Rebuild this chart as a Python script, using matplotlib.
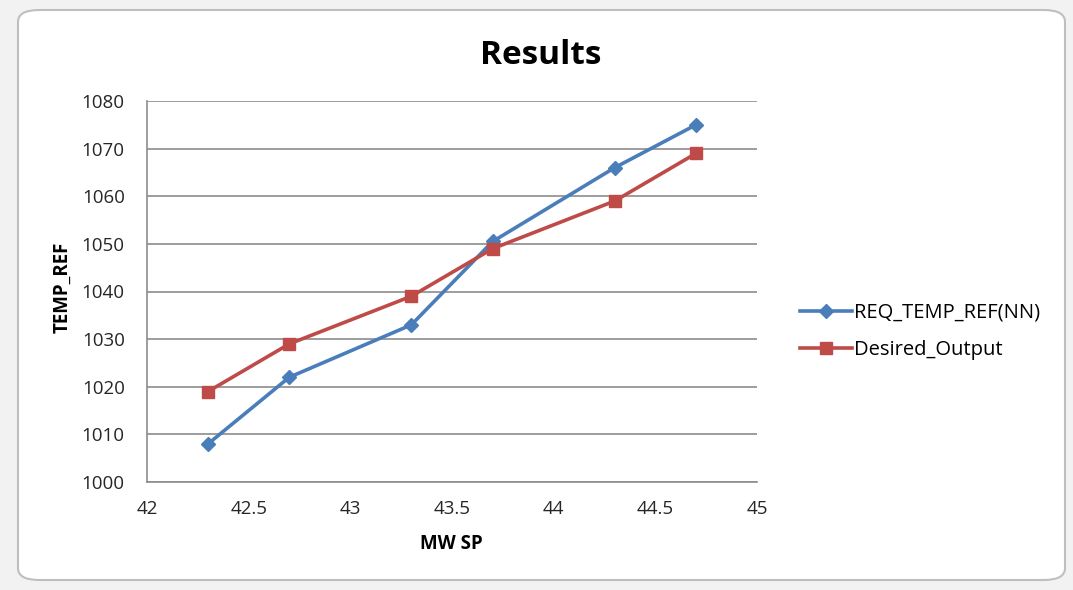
"""Line chart of required vs desired temperature reference over MW setpoint."""

import matplotlib

matplotlib.use("Agg")
import matplotlib.pyplot as plt
from matplotlib.patches import FancyBboxPatch

mw_sp = [42.3, 42.7, 43.3, 43.7, 44.3, 44.7]
req_temp_ref = [1008, 1022, 1033, 1050.5, 1066, 1075]
desired_output = [1019, 1029, 1039, 1049, 1059, 1069]

x_ticks = [42, 42.5, 43, 43.5, 44, 44.5, 45]
x_tick_labels = ["42", "42.5", "43", "43.5", "44", "44.5", "45"]
y_ticks = [1000, 1010, 1020, 1030, 1040, 1050, 1060, 1070, 1080]

plt.rcParams["font.family"] = ["Open Sans", "DejaVu Sans"]

fig = plt.figure(figsize=(10.73, 5.90), dpi=100)
fig.patch.set_facecolor("#f2f2f2")

# rounded chart frame, kept behind the axes
frame = FancyBboxPatch(
    (18 / 1073, 10 / 590), 1047 / 1073, 570 / 590,
    boxstyle="round,pad=0,rounding_size=0.02",
    transform=fig.transFigure, facecolor="white", edgecolor="#bfbfbf",
    linewidth=1.5, zorder=-5,
)
fig.add_artist(frame)

ax = fig.add_axes([147 / 1073, 1 - 482 / 590, 610 / 1073, 381 / 590])
ax.set_facecolor("none")
ax.set_zorder(2)

ax.plot(mw_sp, req_temp_ref, color="#4a7ebb", linewidth=2.6, marker="D",
        markersize=7.5, label="REQ_TEMP_REF(NN)", zorder=3)
ax.plot(mw_sp, desired_output, color="#be4b48", linewidth=2.6, marker="s",
        markersize=9, label="Desired_Output", zorder=3)

ax.set_xlim(42, 45)
ax.set_ylim(1000, 1080)
ax.set_xticks(x_ticks)
ax.set_xticklabels(x_tick_labels)
ax.set_yticks(y_ticks)
ax.tick_params(axis="both", length=0, labelsize=13.5, colors="#262626")
ax.tick_params(axis="x", pad=13)
ax.tick_params(axis="y", pad=16)

ax.grid(axis="y", color="#8c8c8c", linewidth=1.2, zorder=1)
for side in ("top", "right"):
    ax.spines[side].set_visible(False)
for side in ("left", "bottom"):
    ax.spines[side].set_color("#8c8c8c")
    ax.spines[side].set_linewidth(1.2)

fig.text(541 / 1073, 1 - 55 / 590, "Results", ha="center", va="center",
         fontsize=24, fontweight="bold", color="#000000")
fig.text(62 / 1073, 1 - 287 / 590, "TEMP_REF", ha="center", va="center",
         rotation=90, fontsize=13.5, fontweight="bold", color="#000000")
fig.text(451 / 1073, 1 - 544 / 590, "MW SP", ha="center", va="center",
         fontsize=13.5, fontweight="bold", color="#000000")

ax.legend(loc="center left", bbox_to_anchor=(1.04, 0.395), frameon=False,
          fontsize=14.5, handlelength=2.6, handletextpad=0.1, labelspacing=0.85)

fig.savefig("out.png", dpi=100, facecolor=fig.get_facecolor())
